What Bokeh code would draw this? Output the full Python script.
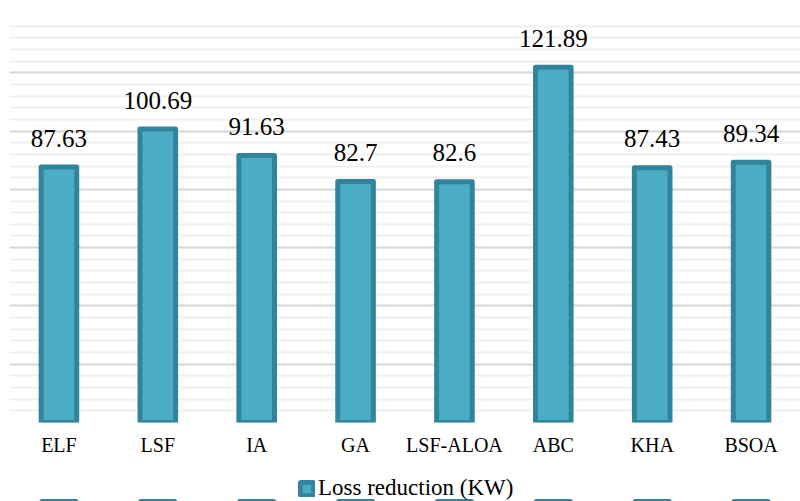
from bokeh.plotting import figure
from bokeh.layouts import column
from bokeh.models import ColumnDataSource, FactorRange, Range1d, SingleIntervalTicker, Legend, LegendItem, Label
from bokeh.embed import file_html
from bokeh.resources import INLINE

categories = ["ELF", "LSF", "IA", "GA", "LSF-ALOA", "ABC", "KHA", "BSOA"]
loss_reduction = [87.63, 100.69, 91.63, 82.7, 82.6, 121.89, 87.43, 89.34]
value_labels = ["87.63", "100.69", "91.63", "82.7", "82.6", "121.89", "87.43", "89.34"]
series_name = "Loss reduction (KW)"

FILL = "#4BACC6"
EDGE = "#31849B"
SERIF = "Liberation Serif"

src = ColumnDataSource(dict(cat=categories, val=loss_reduction))

xr = FactorRange(*categories, range_padding=0, factor_padding=0)
p = figure(width=800, height=458, x_range=xr,
           y_range=(0, 140), output_backend="svg", toolbar_location=None,
           min_border_top=14, min_border_left=9, min_border_right=0, min_border_bottom=36)
p.outline_line_color = None
p.background_fill_color = "white"

bars = p.vbar(x="cat", top="val", width=0.36, source=src,
              fill_color=FILL, line_color=EDGE, line_width=5, line_join="round")

# FactorRange places factor i at synthetic coordinate i + 0.5
for i, (val, lab) in enumerate(zip(loss_reduction, value_labels)):
    p.add_layout(Label(x=i + 0.5, y=val, text=lab, text_align="center",
                       text_baseline="alphabetic", y_offset=29,
                       text_font=SERIF, text_font_size="25px", text_color="black"))

p.yaxis.visible = False
p.yaxis.ticker = SingleIntervalTicker(interval=20, num_minor_ticks=5)
p.ygrid.grid_line_color = "#d9d9d9"
p.ygrid.grid_line_width = 2
p.ygrid.minor_grid_line_color = "#f0f0f0"
p.ygrid.minor_grid_line_width = 2
p.xgrid.grid_line_color = None

p.xaxis.axis_line_color = None
p.xaxis.major_tick_line_color = None
p.xaxis.minor_tick_line_color = None
p.xaxis.major_tick_out = 0
p.xaxis.major_tick_in = 0
p.xaxis.minor_tick_out = 0
p.xaxis.minor_tick_in = 0
p.xaxis.major_label_standoff = 11
p.xaxis.major_label_text_font = SERIF
p.xaxis.major_label_text_font_size = "20px"
p.xaxis.major_label_text_color = "black"

# legend strip below the chart (the same series, kept outside its view window)
leg = figure(width=800, height=43, output_backend="svg", toolbar_location=None,
             x_range=FactorRange(*categories), y_range=Range1d(1000, 1001),
             x_axis_type=None, y_axis_type=None, min_border=0)
leg.outline_line_color = None
leg.xgrid.visible = False
leg.ygrid.visible = False
swatch = leg.vbar(x="cat", top="val", width=0.36, source=src,
                  fill_color=FILL, line_color=EDGE, line_width=5)
legend = Legend(items=[LegendItem(label=series_name, renderers=[swatch])],
                orientation="horizontal", location=(289, 0),
                label_text_font=SERIF, label_text_font_size="23px",
                label_text_color="black", glyph_width=17, glyph_height=17,
                border_line_color=None, background_fill_alpha=0,
                padding=0, margin=0, label_standoff=3)
leg.add_layout(legend, "center")

layout = column(p, leg, spacing=0)
open("out.html", "w").write(file_html(layout, INLINE))
